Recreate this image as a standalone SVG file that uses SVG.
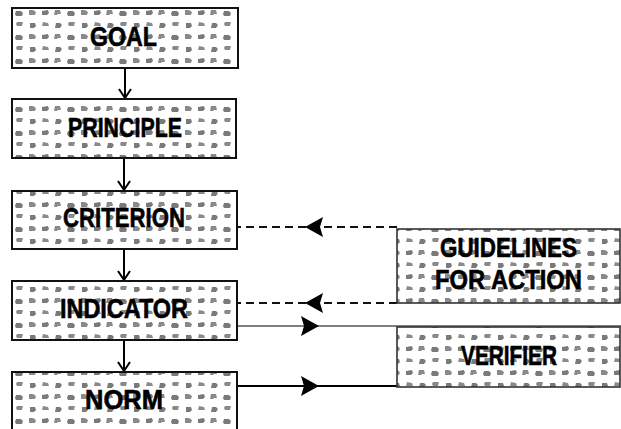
<svg xmlns="http://www.w3.org/2000/svg" width="621" height="429" viewBox="0 0 621 429">
<style>
.box{fill:url(#stip);stroke:#111;stroke-width:2}
.box2{fill:url(#stip);stroke:#333;stroke-width:1.6}
.lbl{font-family:"Liberation Sans",Arial,sans-serif;font-weight:bold;font-size:27px;fill:#000;stroke:#000;stroke-width:0.6;text-anchor:middle}
.v{stroke:#000;stroke-width:2;fill:none;marker-end:url(#chev)}
.dash{stroke:#111;stroke-width:2;stroke-dasharray:8 5;fill:none;marker-mid:url(#tri)}
.sol{stroke:#555;stroke-width:1.5;fill:none;marker-mid:url(#tri)}
.solk{stroke:#000;stroke-width:2;fill:none;marker-mid:url(#tri)}
.b1{fill:#7a7a7a}
.b2{fill:#8a8a8a}
</style>
<defs>
<pattern id="stip" width="52" height="24" patternUnits="userSpaceOnUse" x="14" y="9">
<rect width="52" height="24" fill="#fff"/>
<path class="b1" d="M2,2 h5 l2,2 l-1,3 h-6 l-1,-2 z"/>
<path class="b2" d="M15,1 h4 l3,2 l-1,3 h-6 z"/>
<path class="b1" d="M28,2 l6,-1 l1,3 l-2,2 h-5 z"/>
<path class="b2" d="M41,1 h5 l1,4 h-3 l-1,1 h-3 z"/>
<path class="b2" d="M3,13 h6 l-1,4 h-5 l-1,-2 z"/>
<path class="b1" d="M16,14 h5 l1,3 l-2,2 h-4 z"/>
<path class="b2" d="M29,13 l5,1 l1,3 h-7 z"/>
<path class="b1" d="M42,14 h4 l2,2 l-2,3 h-5 z"/>
</pattern>
<marker id="chev" markerUnits="userSpaceOnUse" viewBox="-12 -8 14 16" markerWidth="14" markerHeight="16" refX="0" refY="0" orient="auto">
<path d="M-9,-6 L0,0 L-9,6" fill="none" stroke="#000" stroke-width="2"/>
</marker>
<marker id="tri" markerUnits="userSpaceOnUse" viewBox="-19 -11 21 22" markerWidth="21" markerHeight="22" refX="0" refY="0" orient="auto">
<path d="M0,0 L-18,-10 L-15,0 L-18,10 z" fill="#000"/>
</marker>
</defs>

<g id="connectors">
<path class="v" d="M125,68 V98"/>
<path class="v" d="M124,158 V190"/>
<path class="v" d="M124,249 V280"/>
<path class="v" d="M124,340 V371"/>
<path class="dash" d="M397,227 L305,227 L237,227"/>
<path class="dash" d="M397,303 L305,303 L237,303"/>
<path class="sol" d="M237,326 L319,326 L621,326"/>
<path class="solk" d="M237,386 L319,386 L397,386"/>
</g>

<g id="goal"><rect class="box" x="12" y="8" width="226" height="60"/><text class="lbl" x="123.5" y="46" textLength="67" lengthAdjust="spacingAndGlyphs">GOAL</text></g>
<g id="principle"><rect class="box" x="12" y="99" width="224" height="59"/><text class="lbl" x="125" y="137" textLength="114" lengthAdjust="spacingAndGlyphs">PRINCIPLE</text></g>
<g id="criterion"><rect class="box" x="12" y="191" width="225" height="58"/><text class="lbl" x="124" y="227" textLength="122" lengthAdjust="spacingAndGlyphs">CRITERION</text></g>
<g id="indicator"><rect class="box" x="12" y="281" width="225" height="59"/><text class="lbl" x="124" y="318" textLength="128" lengthAdjust="spacingAndGlyphs">INDICATOR</text></g>
<g id="norm"><rect class="box" x="12" y="372" width="225" height="70"/><text class="lbl" x="124" y="409" textLength="78" lengthAdjust="spacingAndGlyphs">NORM</text></g>
<g id="guidelines"><rect class="box2" x="397" y="229" width="223" height="74"/><text class="lbl" x="508.5" y="257" textLength="137" lengthAdjust="spacingAndGlyphs">GUIDELINES</text><text class="lbl" x="508.5" y="289" textLength="147" lengthAdjust="spacingAndGlyphs">FOR ACTION</text></g>
<g id="verifier"><rect class="box2" x="397" y="327" width="223" height="60"/><text class="lbl" x="509" y="365" textLength="96" lengthAdjust="spacingAndGlyphs">VERIFIER</text></g>
</svg>
